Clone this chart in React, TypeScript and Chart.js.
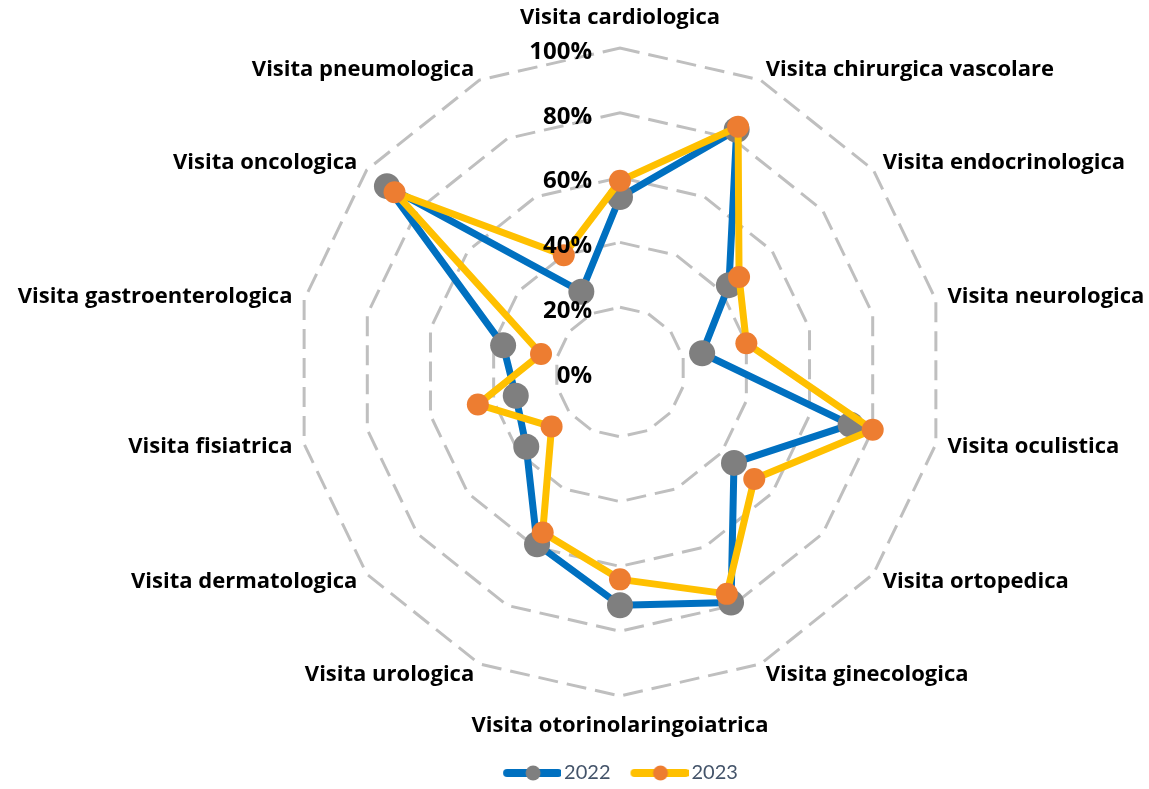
import React, { useEffect, useRef } from 'react';
import { Chart, registerables } from 'chart.js';

Chart.register(...registerables);

const categories = [
  'Visita cardiologica',
  'Visita chirurgica vascolare',
  'Visita endocrinologica',
  'Visita neurologica',
  'Visita oculistica',
  'Visita ortopedica',
  'Visita ginecologica',
  'Visita otorinolaringoiatrica',
  'Visita urologica',
  'Visita dermatologica',
  'Visita fisiatrica',
  'Visita gastroenterologica',
  'Visita oncologica',
  'Visita pneumologica',
];
const seriesNames = ['2022', '2023'];
const values2022 = [54, 83, 43, 26, 73, 45, 79, 72, 59, 37, 33, 37, 92, 27.5];
const values2023 = [59, 84, 47, 40, 80, 53, 76, 64, 55, 27, 45, 25, 89, 40];
const tickMin = 0;
const tickMax = 100;
const tickStep = 20;

const LINE_2022 = '#0070C0';
const DOT_2022 = '#7F7F7F';
const LINE_2023 = '#FFC000';
const DOT_2023 = '#ED7D31';
const LABEL_FONT = '"Open Sans", Lato, sans-serif';
const LEGEND_FONT = 'Lato, "Open Sans", sans-serif';

function makeLegendImage(lineColor: string, dotColor: string) {
  const c = document.createElement('canvas');
  c.width = 66;
  c.height = 20;
  const g = c.getContext('2d')!;
  g.strokeStyle = lineColor;
  g.lineWidth = 8;
  g.lineCap = 'round';
  g.beginPath();
  g.moveTo(12, 10);
  g.lineTo(63, 10);
  g.stroke();
  g.fillStyle = dotColor;
  g.beginPath();
  g.arc(38, 10, 7.5, 0, Math.PI * 2);
  g.fill();
  return c;
}

const excelLabels = {
  id: 'excelLabels',
  afterDatasetsDraw(chart: any) {
    const scale = chart.scales.r;
    const ctx = chart.ctx;
    ctx.save();
    ctx.fillStyle = '#000000';
    ctx.font = `bold 22px ${LABEL_FONT}`;
    ctx.textBaseline = 'middle';
    categories.forEach((label, i) => {
      const deg = Math.round((scale.getIndexAngle(i) * 180) / Math.PI) % 360;
      if (deg === 0 || deg === 180) {
        const p = scale.getPointPosition(i, scale.drawingArea + 30);
        ctx.textAlign = 'center';
        ctx.fillText(label, p.x, p.y);
      } else {
        const p = scale.getPointPosition(i, scale.drawingArea + 12);
        ctx.textAlign = deg < 180 ? 'left' : 'right';
        ctx.fillText(label, p.x, p.y);
      }
    });
    ctx.font = `bold 24px ${LABEL_FONT}`;
    ctx.textAlign = 'right';
    scale.ticks.forEach((t: any) => {
      const d = scale.getDistanceFromCenterForValue(t.value);
      ctx.fillText(t.label, scale.xCenter - 28, scale.yCenter - d + 4);
    });
    ctx.restore();
  },
};

export default function App() {
  const canvasRef = useRef<HTMLCanvasElement | null>(null);

  useEffect(() => {
    if (!canvasRef.current) return;
    const legendImages = [makeLegendImage(LINE_2022, DOT_2022), makeLegendImage(LINE_2023, DOT_2023)];
    const chart = new Chart(canvasRef.current, {
      type: 'radar',
      data: {
        labels: categories,
        datasets: [
          {
            label: seriesNames[0],
            data: values2022,
            borderColor: LINE_2022,
            backgroundColor: LINE_2022,
            borderWidth: 7,
            borderJoinStyle: 'round',
            fill: false,
            tension: 0,
            pointRadius: 13,
            pointBorderWidth: 0,
            pointBackgroundColor: DOT_2022,
            pointBorderColor: DOT_2022,
            order: 1,
          },
          {
            label: seriesNames[1],
            data: values2023,
            borderColor: LINE_2023,
            backgroundColor: LINE_2023,
            borderWidth: 7,
            borderJoinStyle: 'round',
            fill: false,
            tension: 0,
            pointRadius: 11,
            pointBorderWidth: 0,
            pointBackgroundColor: DOT_2023,
            pointBorderColor: DOT_2023,
            order: 0,
          },
        ],
      },
      options: {
        responsive: false,
        animation: false,
        devicePixelRatio: 1,
        layout: { padding: { left: 296, right: 205, top: 0, bottom: 0 } },
        scales: {
          r: {
            min: tickMin,
            max: tickMax,
            ticks: {
              stepSize: tickStep,
              display: false,
              callback: (v: any) => `${v}%`,
            },
            grid: { color: '#BFBFBF', lineWidth: 3 },
            border: { dash: [20, 9] },
            angleLines: { display: false },
            pointLabels: { display: false },
          },
        },
        plugins: {
          tooltip: { enabled: false },
          legend: {
            position: 'bottom',
            maxHeight: 45,
            labels: {
              usePointStyle: true,
              pointStyleWidth: 52,
              padding: 19,
              color: '#44546A',
              font: { family: LEGEND_FONT, size: 20 },
              generateLabels: (ch: any) =>
                ch.data.datasets.map((ds: any, i: number) => ({
                  text: ds.label,
                  fillStyle: ds.borderColor,
                  strokeStyle: ds.borderColor,
                  lineWidth: 0,
                  pointStyle: legendImages[i],
                  hidden: false,
                  datasetIndex: i,
                  fontColor: '#44546A',
                })),
            },
          },
        },
      } as any,
      plugins: [excelLabels],
    });
    return () => chart.destroy();
  }, []);

  return (
    <div style={{ position: 'absolute', left: 0, top: 0, width: 1149, height: 789, background: '#ffffff' }}>
      <canvas ref={canvasRef} width={1149} height={789} style={{ display: 'block' }} />
    </div>
  );
}
